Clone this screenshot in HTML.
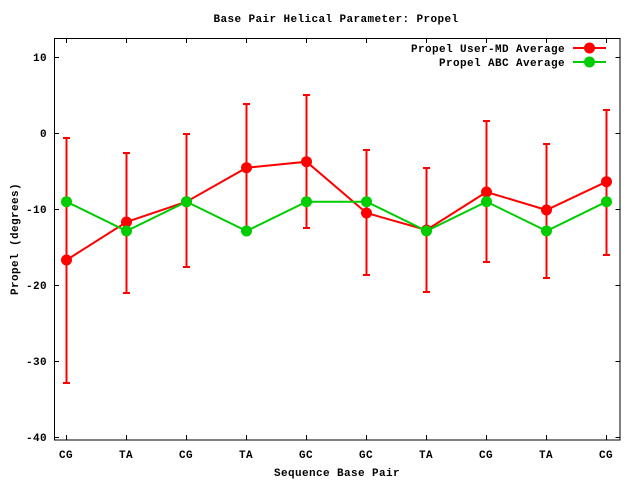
<!DOCTYPE html>
<html><head><meta charset="utf-8"><style>body{margin:0;background:#fff}svg{display:block}text{font-family:"Liberation Mono",monospace;font-weight:bold;font-size:11px;fill:#000;letter-spacing:0.4px}</style></head><body>
<svg width="640" height="480" viewBox="0 0 640 480">
<rect x="0" y="0" width="640" height="480" fill="#fff"/>
<text x="336" y="22" text-anchor="middle">Base Pair Helical Parameter: Propel</text>
<rect x="54.5" y="38.5" width="565.5" height="401.5" fill="none" stroke="#000" stroke-width="1"/>
<g stroke="#000" stroke-width="1">
<line x1="54.5" y1="57.5" x2="59" y2="57.5"/><line x1="620" y1="57.5" x2="615.5" y2="57.5"/>
<line x1="54.5" y1="133.5" x2="59" y2="133.5"/><line x1="620" y1="133.5" x2="615.5" y2="133.5"/>
<line x1="54.5" y1="209.5" x2="59" y2="209.5"/><line x1="620" y1="209.5" x2="615.5" y2="209.5"/>
<line x1="54.5" y1="285.5" x2="59" y2="285.5"/><line x1="620" y1="285.5" x2="615.5" y2="285.5"/>
<line x1="54.5" y1="361.5" x2="59" y2="361.5"/><line x1="620" y1="361.5" x2="615.5" y2="361.5"/>
<line x1="54.5" y1="437.5" x2="59" y2="437.5"/><line x1="620" y1="437.5" x2="615.5" y2="437.5"/>
</g>
<g stroke="#000" stroke-width="1">
<path d="M66.5 440v-5M126.5 440v-5M186.5 440v-5M246.5 440v-5M306.5 440v-5M366.5 440v-5M426.5 440v-5M486.5 440v-5M546.5 440v-5M606.5 440v-5M66.5 38v5M126.5 38v5M186.5 38v5M246.5 38v5M306.5 38v5M366.5 38v5M426.5 38v5M486.5 38v5M546.5 38v5M606.5 38v5"/>
</g>
<g text-anchor="end">
<text x="47" y="61">10</text><text x="47" y="137">0</text><text x="47" y="213">-10</text><text x="47" y="289">-20</text><text x="47" y="365">-30</text><text x="47" y="441">-40</text>
</g>
<g text-anchor="middle">
<text x="66" y="458">CG</text><text x="126" y="458">TA</text><text x="186" y="458">CG</text><text x="246" y="458">TA</text><text x="306" y="458">GC</text><text x="366" y="458">GC</text><text x="426" y="458">TA</text><text x="486" y="458">CG</text><text x="546" y="458">TA</text><text x="606" y="458">CG</text>
<text x="337" y="476">Sequence Base Pair</text>
<text transform="translate(18 239) rotate(-90)">Propel (degrees)</text>
</g>
<g stroke="#f00" stroke-width="2" fill="none">
<path d="M66.5 138V383M63 138h7M63 383h7"/>
<path d="M126.5 153V293M123 153h7M123 293h7"/>
<path d="M186.5 134V267M183 134h7M183 267h7"/>
<path d="M246.5 104V228M243 104h7M243 228h7"/>
<path d="M306.5 95V228M303 95h7M303 228h7"/>
<path d="M366.5 150V275M363 150h7M363 275h7"/>
<path d="M426.5 168V292M423 168h7M423 292h7"/>
<path d="M486.5 121V262M483 121h7M483 262h7"/>
<path d="M546.5 144V278M543 144h7M543 278h7"/>
<path d="M606.5 110V255M603 110h7M603 255h7"/>
</g>
<polyline fill="none" stroke="#f00" stroke-width="2" points="66.5,260 126.5,222 186.5,201.7 246.5,167.7 306.5,161.7 366.5,213 426.5,230 486.5,192 546.5,210 606.5,181.7"/>
<g fill="#f00">
<circle cx="66.5" cy="260" r="5.5"/><circle cx="126.5" cy="222" r="5.5"/><circle cx="186.5" cy="201.7" r="5.5"/><circle cx="246.5" cy="167.7" r="5.5"/><circle cx="306.5" cy="161.7" r="5.5"/><circle cx="366.5" cy="213" r="5.5"/><circle cx="426.5" cy="230" r="5.5"/><circle cx="486.5" cy="192" r="5.5"/><circle cx="546.5" cy="210" r="5.5"/><circle cx="606.5" cy="181.7" r="5.5"/>
</g>
<polyline fill="none" stroke="#0c0" stroke-width="2" points="66.5,201.7 126.5,231 186.5,201.7 246.5,231 306.5,201.7 366.5,201.7 426.5,231 486.5,201.7 546.5,231 606.5,201.7"/>
<g fill="#0c0">
<circle cx="66.5" cy="201.7" r="5.5"/><circle cx="126.5" cy="231" r="5.5"/><circle cx="186.5" cy="201.7" r="5.5"/><circle cx="246.5" cy="231" r="5.5"/><circle cx="306.5" cy="201.7" r="5.5"/><circle cx="366.5" cy="201.7" r="5.5"/><circle cx="426.5" cy="231" r="5.5"/><circle cx="486.5" cy="201.7" r="5.5"/><circle cx="546.5" cy="231" r="5.5"/><circle cx="606.5" cy="201.7" r="5.5"/>
</g>
<text x="565" y="52" text-anchor="end">Propel User-MD Average</text>
<text x="565" y="66" text-anchor="end">Propel ABC Average</text>
<line x1="573" y1="48" x2="606" y2="48" stroke="#f00" stroke-width="2"/>
<circle cx="589.5" cy="48" r="5.5" fill="#f00"/>
<line x1="573" y1="62" x2="606" y2="62" stroke="#0c0" stroke-width="2"/>
<circle cx="589.5" cy="62" r="5.5" fill="#0c0"/>
</svg>
</body></html>
